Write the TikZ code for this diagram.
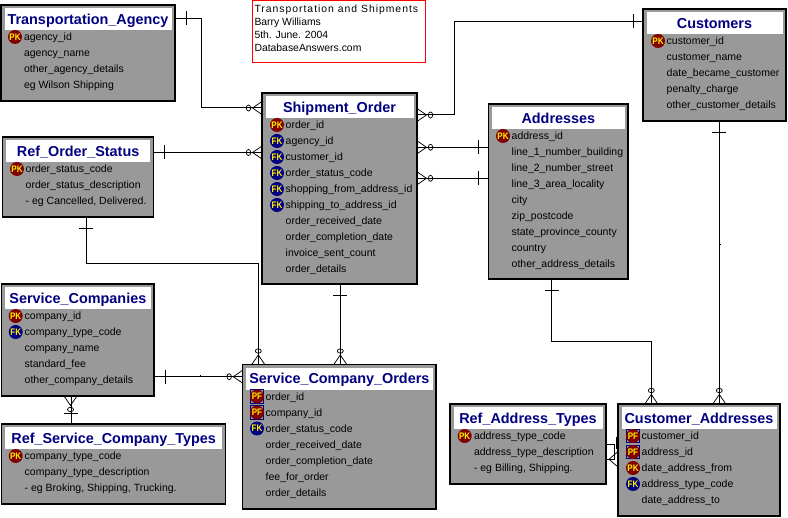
\documentclass[tikz,border=0pt]{standalone}
\usepackage{fontspec}
\setmainfont{Liberation Sans}
\newfontfamily\iconfont[FakeStretch=0.85]{Liberation Sans}
\catcode`\_=12
\definecolor{tblgray}{HTML}{999999}
\definecolor{navyT}{HTML}{000080}
\definecolor{redI}{HTML}{800000}
\tikzset{
  tablebox/.style={draw=black,fill=tblgray,line width=1.2pt,inner sep=0pt,outer sep=0pt,anchor=north west},
  titlebox/.style={fill=white,inner sep=0pt,outer sep=0pt,anchor=north west,text=navyT,text height=11pt,text depth=1pt,font=\fontsize{14.4}{15}\selectfont\bfseries},
  rowtext/.style={anchor=base west,inner sep=0pt,outer sep=0pt,font=\fontsize{10.5}{12}\selectfont,text=black},
  iconball/.style={circle,inner sep=0pt,outer sep=0pt,minimum size=14pt,text=yellow,font=\iconfont\fontsize{9.5}{9.5}\selectfont\bfseries},
  conn/.style={draw=black,line width=1pt},
  thinconn/.style={draw=black,line width=0.75pt},
  notebox/.style={draw=red,fill=white,line width=1pt,inner sep=0pt,outer sep=0pt,anchor=north west},
  notetext/.style={anchor=north west,inner sep=0pt,outer sep=0pt,align=left,font=\fontsize{10.4}{13}\selectfont},
}
% icons
\newcommand{\iconN}[3]{}
\newcommand{\iconPK}[3]{\node[iconball,fill=redI] (#3) at (#1,#2) {PK};}
\newcommand{\iconFK}[3]{\node[iconball,fill=navyT] (#3) at (#1,#2) {FK};}
\newcommand{\iconPF}[3]{\draw[navyT,line width=0.8pt] (#1-6.8,#2-6.8) rectangle (#1+6.8,#2+6.8);
  \node[iconball,fill=redI] (#3) at (#1,#2) {PF};}
% name, x1,y1,x2,y2, title, iconx, textx, rows
\newcommand{\tbl}[9]{%
  \pgfmathsetmacro{\tw}{#4-#2}\pgfmathsetmacro{\th}{#5-#3}%
  \node[tablebox,minimum width=\tw pt,minimum height=\th pt] (#1) at (#2,#3) {};
  \pgfmathsetmacro{\ww}{#4-#2-7}%
  \node[titlebox,minimum width=\ww pt,minimum height=22pt] (#1T) at (#2+3.5,#3+3.5) {#6};
  \foreach \ic/\tx [count=\ri] in {#9}{%
    \pgfmathsetmacro{\ry}{#3+16+16*\ri}%
    \csname icon\ic\endcsname{#7}{\ry}{#1I\ri}
    \node[rowtext] (#1R\ri) at (#8,\ry+3.7) {\tx};
  }
}
% crow's foot: edge point, rotation
\newcommand{\crow}[3]{\begin{scope}[shift={(#1,#2)},rotate=#3]
  \draw[thinconn] (0,6.5) -- (-9.5,0) -- (0,-6.5);
  \draw[thinconn] (-13.5,0) ellipse (2.2 and 3);
\end{scope}}
\newcommand{\barV}[2]{\draw[thinconn] (#1,#2-7) -- (#1,#2+7);}
\newcommand{\barH}[2]{\draw[thinconn] (#1-7,#2) -- (#1+7,#2);}
\begin{document}
\begin{tikzpicture}[x=1pt,y=-1pt]
\useasboundingbox (0,0) rectangle (788,518);
% note
\node[notebox,minimum width=172.5pt,minimum height=62.5pt] (note) at (252.5,0.5) {};
\node[notetext] (notetxt) at (254.5,4.5) {\addfontfeature{LetterSpace=9.5}Transportation and Shipments\\Barry Williams\\5th. June. 2004\\DatabaseAnswers.com};
% tables
\tbl{TA}{1}{5}{175}{101}{Transportation_Agency}{15}{24}{PK/agency_id,N/agency_name,N/other_agency_details,N/eg Wilson Shipping}
\tbl{ROS}{2.5}{137}{153.7}{217}{Ref_Order_Status}{17}{25.7}{PK/order_status_code,N/order_status_description,N/{- eg Cancelled, Delivered.}}
\tbl{SO}{262}{93}{417}{284}{Shipment_Order}{277}{285.7}{PK/order_id,FK/agency_id,FK/customer_id,FK/order_status_code,FK/shopping_from_address_id,FK/shipping_to_address_id,N/order_received_date,N/order_completion_date,N/invoice_sent_count,N/order_details}
\tbl{AD}{488.7}{104}{628}{279}{Addresses}{503}{511.7}{PK/address_id,N/line_1_number_building,N/line_2_number_street,N/line_3_area_locality,N/city,N/zip_postcode,N/state_province_county,N/country,N/other_address_details}
\tbl{CU}{643}{9}{786}{121}{Customers}{658}{666.7}{PK/customer_id,N/customer_name,N/date_became_customer,N/penalty_charge,N/other_customer_details}
\tbl{SC}{1.7}{284}{154}{396}{Service_Companies}{15.7}{24.7}{PK/company_id,FK/company_type_code,N/company_name,N/standard_fee,N/other_company_details}
\tbl{RSCT}{1.7}{424}{225.7}{504}{Ref_Service_Company_Types}{15.7}{24.7}{PK/company_type_code,N/company_type_description,N/{- eg Broking, Shipping, Trucking.}}
\tbl{SCO}{242.7}{364.5}{436}{509}{Service_Company_Orders}{257}{265.7}{PF/order_id,PF/company_id,FK/order_status_code,N/order_received_date,N/order_completion_date,N/fee_for_order,N/order_details}
\tbl{RAT}{450}{404}{606}{484}{Ref_Address_Types}{464.7}{474}{PK/address_type_code,N/address_type_description,N/{- eg Billing, Shipping.}}
\tbl{CA}{618}{404}{780}{516}{Customer_Addresses}{633}{641.7}{PF/customer_id,PF/address_id,PK/date_address_from,FK/address_type_code,N/date_address_to}
% connectors
\draw[conn] (TA.east |- 0,18.5) -- (201.5,18.5) -- (201.5,108) -- (SO.west |- 0,108);
\barV{186.5}{18.5}\crow{262}{108}{0}
\draw[conn] (ROS.east |- 0,152.5) -- (SO.west |- 0,152.5);
\barV{164.5}{152.5}\crow{262}{152.5}{0}
\draw[conn] (SO.east |- 0,115) -- (454,115) -- (454,21.5) -- (CU.west |- 0,21.5);
\barV{633}{21.5}\crow{417}{115}{180}
\draw[conn] (SO.east |- 0,147.3) -- (AD.west |- 0,147.3);
\barV{478.7}{147.3}\crow{417}{147.3}{180}
\draw[conn] (SO.east |- 0,178.3) -- (AD.west |- 0,178.3);
\barV{478.5}{178.3}\crow{417}{178.3}{180}
\draw[conn] (86.3,0 |- ROS.south) -- (86.3,263.3) -- (258.3,263.3) -- (258.3,0 |- SCO.north);
\barH{86.3}{228.3}\crow{258.3}{364.5}{-90}
\draw[conn] (340.3,0 |- SO.south) -- (340.3,0 |- SCO.north);
\barH{340.3}{295.3}\crow{340.3}{364.5}{-90}
\draw[conn] (SC.east |- 0,376.7) -- (SCO.west |- 0,376.7);
\barV{165.3}{376.7}\crow{242.7}{376.7}{0}
\draw[thinconn] (200.3,376.7) -- (200.3,375.3);
\draw[conn] (71,0 |- RSCT.north) -- (71,0 |- SC.south);
\barH{71}{413.3}\crow{70.5}{396}{90}
\draw[conn] (551.5,0 |- AD.south) -- (551.5,341.3) -- (651.3,341.3) -- (651.3,0 |- CA.north);
\barH{551.5}{290.3}\crow{651.3}{404}{-90}
\draw[conn] (719.3,0 |- CU.south) -- (719.3,0 |- CA.north);
\barH{719.3}{132.3}\crow{719.3}{404}{-90}
\draw[thinconn] (719.3,244.7) -- (720.8,244.7);
\draw[conn] (RAT.east |- 0,444.3) -- (614,444.3) -- (614,459.3) -- (606.5,459.3);
\draw[conn] (616.7,437) -- (616.7,449);
\draw[thinconn] (618,451.5) -- (609,459.3) -- (618,467);
\end{tikzpicture}
\end{document}
